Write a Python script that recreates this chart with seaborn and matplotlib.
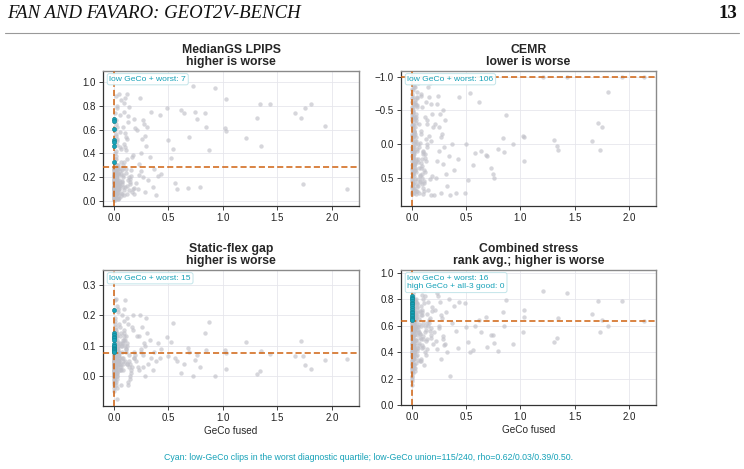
import matplotlib
matplotlib.use("Agg")
import matplotlib.pyplot as plt
from matplotlib.lines import Line2D
import numpy as np
import pandas as pd
import seaborn as sns

# ---------------- data ----------------
x_low = [0.0, 0.002, 0.004, 0.001, 0.003, 0.0, 0.005, 0.002, 0.001, 0.004,
         0.0, 0.003, 0.006, 0.001, 0.002, 0.0, 0.004, 0.005, 0.001, 0.003,
         0.0, 0.002, 0.006, 0.004, 0.001, 0.0, 0.003, 0.002, 0.005, 0.001,
         0.0, 0.004, 0.002, 0.003, 0.006, 0.001, 0.0, 0.005, 0.002, 0.004,
         0.001, 0.0, 0.003, 0.002, 0.006, 0.004, 0.0, 0.001, 0.005, 0.003]
x_b = [0.011, 0.014, 0.018, 0.012, 0.022, 0.016, 0.027, 0.013, 0.031, 0.019,
       0.024, 0.036, 0.015, 0.042, 0.021, 0.029, 0.048, 0.017, 0.033, 0.055,
       0.012, 0.026, 0.039, 0.061, 0.02, 0.045, 0.014, 0.034, 0.067, 0.023,
       0.052, 0.018, 0.071, 0.028, 0.038, 0.013, 0.058, 0.025, 0.044, 0.077,
       0.016, 0.031, 0.064, 0.021, 0.049, 0.035, 0.011, 0.074, 0.027, 0.041,
       0.057, 0.019, 0.069, 0.037, 0.024]
x_c = [0.082, 0.091, 0.085, 0.104, 0.097, 0.118, 0.088, 0.126, 0.109, 0.094,
       0.135, 0.113, 0.142, 0.099, 0.151, 0.121, 0.087, 0.163, 0.131, 0.107,
       0.172, 0.144, 0.093, 0.181, 0.116, 0.158, 0.128, 0.189, 0.102, 0.147,
       0.195, 0.124, 0.168, 0.084, 0.138, 0.177, 0.111, 0.155, 0.096, 0.185]
x_d = [0.205, 0.214, 0.228, 0.237, 0.246, 0.219, 0.258, 0.267, 0.274, 0.289,
       0.231, 0.296, 0.312, 0.253, 0.327, 0.341, 0.283, 0.356, 0.372, 0.305,
       0.389, 0.403, 0.268, 0.421, 0.437]
x_e = [0.49, 0.50, 0.52, 0.54, 0.56, 0.58, 0.62, 0.64, 0.68, 0.69, 0.73, 0.745,
       0.76, 0.79, 0.84, 0.85, 0.87, 0.93, 1.02, 1.03, 1.03, 1.21, 1.31, 1.34,
       1.35, 1.43, 1.66, 1.72, 1.735, 1.75, 1.81, 1.94, 2.14]
x_f = [0.007, 0.009, 0.012, 0.008, 0.015, 0.01, 0.02, 0.013, 0.025, 0.009,
       0.018, 0.03, 0.011, 0.035, 0.016, 0.023, 0.04, 0.008, 0.028, 0.047,
       0.012, 0.021, 0.033, 0.055, 0.014, 0.038, 0.01, 0.026, 0.062, 0.017,
       0.044, 0.013, 0.072, 0.022, 0.031, 0.009, 0.051, 0.019, 0.037, 0.085,
       0.011, 0.027, 0.059, 0.015, 0.043, 0.029, 0.008, 0.095, 0.024, 0.034,
       0.066, 0.012, 0.078, 0.032, 0.02, 0.105, 0.016, 0.048, 0.011, 0.118]
geco_fused = x_low + x_b + x_c + x_d + x_e + x_f

lpips = [0.04, 0.12, 0.21, 0.07, 0.16, 0.27, 0.09, 0.03, 0.18, 0.24,
         0.11, 0.06, 0.14, 0.22, 0.01, 0.19, 0.08, 0.26, 0.13, 0.05,
         0.17, 0.1, 0.23, 0.02, 0.15, 0.2, 0.07, 0.12, 0.28, 0.09,
         0.16, 0.04, 0.25, 0.11, 0.18, 0.06, 0.14, 0.21, 0.03, 0.1,
         0.19, 0.13, 0.08, 0.24, 0.17, 0.05, 0.22, 0.15, 0.11, 0.27,
         0.08, 0.15, 0.42, 0.05, 0.22, 0.88, 0.12, 0.31, 0.18, 0.65,
         0.03, 0.27, 0.55, 0.1, 0.2, 0.78, 0.14, 0.38, 0.07, 0.25,
         0.17, 0.47, 0.09, 0.85, 0.21, 0.13, 0.6, 0.04, 0.33, 0.19,
         0.72, 0.11, 0.16, 0.52, 0.24, 0.06, 0.45, 0.28, 0.9, 0.14,
         0.35, 0.1, 0.23, 0.68, 0.18, 0.02, 0.4, 0.26, 0.8, 0.12,
         0.58, 0.2, 0.07, 0.3, 0.15,
         0.12, 0.48, 0.22, 0.86, 0.05, 0.35, 0.62, 0.18, 0.27, 0.75,
         0.09, 0.43, 0.2, 0.57, 0.14, 0.9, 0.3, 0.08, 0.66, 0.24,
         0.39, 0.16, 0.82, 0.11, 0.52, 0.26, 0.71, 0.06, 0.45, 0.19,
         0.61, 0.13, 0.37, 0.28, 0.79, 0.1, 0.54, 0.21, 0.33, 0.69,
         0.15, 0.6, 0.22, 0.86, 0.4, 0.1, 0.52, 0.2, 0.65, 0.08,
         0.31, 0.46, 0.18, 0.25, 0.37, 0.75, 0.55, 0.12, 0.27, 0.62,
         0.05, 0.21, 0.68, 0.72, 0.23,
         0.777, 0.51, 0.36, 0.44, 0.156, 0.10, 0.765, 0.74, 0.11, 0.54, 0.967,
         0.745, 0.69, 0.115, 0.74, 0.625, 0.43, 0.945, 0.61, 0.59, 0.855, 0.53,
         0.70, 0.814, 0.46, 0.814, 0.735, 0.70, 0.145, 0.78, 0.814, 0.627, 0.105,
         0.06, 0.14, 0.22, 0.03, 0.18, 0.1, 0.26, 0.08, 0.16, 0.04,
         0.2, 0.12, 0.35, 0.07, 0.24, 0.15, 0.02, 0.19, 0.11, 0.28,
         0.05, 0.17, 0.5, 0.13, 0.09, 0.23, 0.01, 0.15, 0.44, 0.21,
         0.1, 0.27, 0.06, 0.18, 0.62, 0.12, 0.03, 0.25, 0.14, 0.2,
         0.08, 0.3, 0.16, 0.05, 0.22, 0.11, 0.74, 0.09, 0.19, 0.13,
         0.04, 0.24, 0.17, 0.07, 0.56, 0.12, 0.21, 0.1, 0.15, 0.06]

cemr = [-1.0, 0.35, -1.0, -0.62, 0.12, -1.0, 0.55, -0.28, -1.0, 0.71,
        -0.45, -1.0, 0.22, -0.08, -1.0, 0.43, -0.75, -1.0, 0.05, 0.62,
        -1.0, -0.35, 0.28, -1.0, -0.15, 0.49, -1.0, -0.55, 0.18, -1.0,
        0.38, -0.82, -1.0, 0.66, -0.22, -1.0, 0.09, -0.4, -1.0, 0.52,
        -0.05, -1.0, 0.31, -0.68, -1.0, 0.74, -0.12, -1.0, 0.25, -0.5,
        -0.3, 0.2, -1.0, 0.45, -0.6, 0.1, -0.15, 0.6, -0.85, 0.32,
        -0.42, -1.0, 0.05, 0.7, -0.2, 0.38, -0.7, 0.15, -0.05, 0.52,
        -0.92, 0.26, -0.35, 0.0, 0.66, -0.55, 0.42, -0.1, -1.0, 0.3,
        -0.78, 0.12, 0.57, -0.25, 0.74, -0.48, 0.22, -0.65, 0.08, 0.48,
        -0.18, -1.0, 0.35, -0.88, 0.62, -0.32, 0.18, -0.02, 0.55, -0.58,
        0.27, -0.12, 0.72, -0.4, 0.4,
        -0.2, 0.45, -0.72, 0.15, 0.6, -0.4, 0.28, -0.08, 0.7, -0.55,
        0.05, 0.38, -0.3, 0.65, -0.85, 0.2, -0.15, 0.52, -0.62, 0.1,
        0.75, -0.35, 0.32, -0.05, 0.58, -0.7, 0.25, -0.45, 0.12, 0.68,
        -0.25, 0.42, -0.9, 0.35, 0.0, -0.6, 0.55, -0.12, 0.22, 0.48,
        0.75, -0.3, 0.25, -0.72, 0.1, 0.5, -0.45, 0.72, -0.15, 0.3,
        -0.6, 0.05, 0.45, -0.25, 0.62, 0.18, -0.5, 0.75, 0.0, -0.35,
        0.38, 0.72, -0.1, 0.22, -0.7,
        0.73, 0.0, 0.535, -0.76, 0.31, 0.138, -0.63, 0.10, 0.163, 0.178, 0.357,
        0.45, 0.50, 0.08, -0.085, 0.123, -0.43, 0.0, -0.123, -0.104, 0.253, -1.0,
        -0.06, 0.03, 0.094, -1.0, -0.05, -0.31, 0.09, -0.25, -0.77, -1.0, -1.0,
        0.6, -0.4, 0.15, -0.7, 0.45, -0.1, 0.3, -0.55, 0.68, -0.25,
        0.05, 0.52, -0.8, 0.25, -0.35, 0.72, -0.05, 0.4, -0.62, 0.1,
        0.58, -0.2, 0.35, -0.9, 0.2, -0.45, 0.65, 0.0, -0.3, 0.48,
        -0.68, 0.12, 0.55, -0.15, 0.3, -0.5, 0.7, -0.02, 0.42, -0.75,
        0.18, -0.38, 0.62, 0.08, -0.58, 0.38, -0.12, 0.5, -0.85, 0.22,
        0.05, -0.28, 0.46, -0.6, 0.28, 0.74, -0.18, 0.6, -0.48, 0.15]

flex_gap = [0.02, 0.05, -0.01, 0.07, 0.03, 0.0, 0.06, 0.04, -0.03, 0.01,
            0.055, 0.025, 0.065, -0.02, 0.045, 0.015, 0.035, 0.075, 0.005, 0.05,
            -0.04, 0.03, 0.06, 0.01, 0.04, -0.015, 0.07, 0.02, 0.05, 0.0,
            0.035, 0.065, -0.005, 0.045, 0.025, 0.055, 0.01, -0.025, 0.06, 0.03,
            0.04, 0.07, 0.015, -0.05, 0.05, 0.02, 0.06, 0.035, 0.0, 0.045,
            0.04, 0.12, 0.02, 0.18, 0.07, -0.02, 0.09, 0.25, 0.05, 0.14,
            0.01, 0.1, 0.06, 0.21, 0.03, -0.078, 0.08, 0.16, 0.0, 0.11,
            0.05, 0.23, 0.07, -0.03, 0.13, 0.04, 0.19, 0.09, 0.02, 0.15,
            0.06, 0.255, 0.1, -0.01, 0.08, 0.17, 0.03, 0.12, 0.05, 0.2,
            0.07, 0.01, 0.14, 0.09, 0.04, 0.22, 0.06, 0.11, -0.04, 0.08,
            0.16, 0.03, 0.1, 0.05, 0.13,
            0.06, 0.15, 0.02, 0.1, 0.22, 0.04, 0.12, -0.02, 0.08, 0.18,
            0.03, 0.13, 0.07, 0.25, 0.0, 0.11, 0.05, 0.16, -0.03, 0.09,
            0.2, 0.04, 0.14, 0.06, 0.1, 0.01, 0.17, 0.08, 0.12, -0.01,
            0.07, 0.19, 0.03, 0.11, 0.05, 0.15, 0.09, 0.02, 0.13, 0.06,
            0.05, 0.13, 0.02, 0.2, 0.09, 0.03, 0.16, 0.07, 0.11, 0.0,
            0.13, 0.19, 0.04, 0.08, 0.12, 0.06, 0.1, 0.02, 0.08, 0.14,
            0.05, 0.11, 0.03, 0.06, 0.09,
            0.129, 0.065, 0.113, 0.173, 0.06, 0.05, 0.008, 0.04, 0.091, 0.08, 0.0,
            0.052, 0.07, 0.03, 0.14, 0.085, 0.179, -0.001, 0.085, 0.074, 0.023, 0.113,
            0.006, 0.016, 0.083, 0.071, 0.065, 0.114, 0.066, 0.035, 0.022, 0.053, 0.055,
            0.03, 0.07, 0.05, 0.1, 0.02, 0.08, 0.04, 0.12, 0.06, -0.01,
            0.09, 0.03, 0.15, 0.05, 0.07, 0.01, 0.11, 0.04, 0.08, 0.06,
            -0.02, 0.1, 0.05, 0.13, 0.03, 0.07, 0.0, 0.09, 0.04, 0.06,
            0.17, 0.02, 0.08, 0.05, 0.11, 0.03, 0.07, -0.03, 0.1, 0.04,
            0.06, 0.14, 0.02, 0.09, 0.05, 0.08, 0.01, 0.12, 0.04, 0.07,
            0.03, 0.1, 0.06, 0.0, 0.08, 0.05, 0.13, 0.02, 0.09, 0.04]

combined = [0.45, 0.32, 0.58, 0.22, 0.5, 0.38, 0.62, 0.28, 0.55, 0.41,
            0.18, 0.47, 0.35, 0.6, 0.25, 0.52, 0.43, 0.3, 0.57, 0.4,
            0.63, 0.2, 0.48, 0.36, 0.54, 0.27, 0.44, 0.59, 0.33, 0.51,
            0.15, 0.46, 0.39, 0.61, 0.24, 0.53, 0.42, 0.34, 0.56, 0.29,
            0.49, 0.37, 0.6, 0.21, 0.45, 0.31, 0.58, 0.4, 0.26, 0.52,
            0.55, 0.72, 0.4, 0.85, 0.62, 0.3, 0.68, 0.48, 0.78, 0.58,
            0.35, 0.66, 0.5, 0.88, 0.6, 0.42, 0.74, 0.53, 0.26, 0.7,
            0.64, 0.45, 0.8, 0.57, 0.38, 0.67, 0.52, 0.9, 0.61, 0.44,
            0.76, 0.56, 0.33, 0.69, 0.49, 0.82, 0.59, 0.41, 0.73, 0.54,
            0.28, 0.65, 0.47, 0.86, 0.6, 0.37, 0.71, 0.51, 0.79, 0.63,
            0.43, 0.75, 0.55, 0.32, 0.67,
            0.6, 0.45, 0.75, 0.52, 0.83, 0.4, 0.68, 0.57, 0.3, 0.72,
            0.5, 0.87, 0.62, 0.44, 0.78, 0.55, 0.35, 0.66, 0.48, 0.8,
            0.58, 0.42, 0.7, 0.53, 0.88, 0.64, 0.38, 0.74, 0.5, 0.6,
            0.46, 0.82, 0.56, 0.33, 0.69, 0.51, 0.77, 0.62, 0.43, 0.71,
            0.55, 0.72, 0.42, 0.82, 0.6, 0.48, 0.78, 0.35, 0.66, 0.52,
            0.85, 0.45, 0.7, 0.58, 0.4, 0.8, 0.5, 0.22, 0.62, 0.46,
            0.75, 0.56, 0.68, 0.43, 0.78,
            0.77, 0.59, 0.475, 0.40, 0.417, 0.60, 0.64, 0.55, 0.666, 0.442, 0.53,
            0.53, 0.468, 0.41, 0.70, 0.60, 0.79, 0.463, 0.553, 0.72, 0.664, 0.865,
            0.475, 0.508, 0.654, 0.845, 0.687, 0.787, 0.548, 0.644, 0.60, 0.787, 0.638,
            0.52, 0.66, 0.44, 0.73, 0.58, 0.36, 0.62, 0.48, 0.7, 0.55,
            0.4, 0.64, 0.5, 0.78, 0.57, 0.31, 0.68, 0.46, 0.6, 0.53,
            0.42, 0.72, 0.56, 0.34, 0.63, 0.49, 0.76, 0.59, 0.45, 0.67,
            0.38, 0.61, 0.54, 0.8, 0.47, 0.65, 0.41, 0.57, 0.7, 0.5,
            0.62, 0.28, 0.55, 0.74, 0.43, 0.6, 0.52, 0.68, 0.39, 0.58,
            0.65, 0.47, 0.71, 0.54, 0.35, 0.62, 0.49, 0.77, 0.44, 0.6]

# highlighted low-GeCo clips in the worst quartile
cyan_x_lpips = [0.0, 0.0, 0.002, 0.0, 0.002, 0.0, 0.0]
cyan_y_lpips = [0.686, 0.671, 0.604, 0.513, 0.499, 0.462, 0.331]
cyan_x_cemr = [0.0, 0.002, 0.004]
cyan_y_cemr = [-1.0, -1.0, -1.0]
cyan_x_gap = [0.0, 0.002, 0.0, 0.003, 0.001, 0.0, 0.002, 0.0, 0.003, 0.001,
              0.0, 0.002, 0.001, 0.0, 0.003]
cyan_y_gap = [0.217, 0.14, 0.135, 0.129, 0.125, 0.118, 0.105, 0.1, 0.097, 0.093,
              0.09, 0.087, 0.084, 0.081, 0.079]
cyan_x_comb = [0.0, 0.003, 0.001, 0.004, 0.0, 0.002, 0.004, 0.001, 0.003, 0.0,
               0.002, 0.004, 0.001, 0.003, 0.0, 0.002]
cyan_y_comb = [0.82, 0.81, 0.8, 0.785, 0.77, 0.76, 0.745, 0.73, 0.72, 0.705,
               0.695, 0.68, 0.67, 0.66, 0.65, 0.645]

titles = ["MedianGS LPIPS\nhigher is worse", "CEMR\nlower is worse",
          "Static-flex gap\nhigher is worse", "Combined stress\nrank avg.; higher is worse"]
worst_thresholds = [0.289, -1.0, 0.077, 0.638]
low_geco_threshold = 0.005
worst_counts = [7, 106, 15, 16]
high_good_count = 0
caption = ("Cyan: low-GeCo clips in the worst diagnostic quartile; "
           "low-GeCo union=115/240, rho=0.62/0.03/0.39/0.50.")

# ---------------- style ----------------
sns.set_theme(style="whitegrid")
plt.rcParams["font.family"] = ["Liberation Sans", "DejaVu Sans"]

GRAY = "#c0c0c8"
CYAN = "#17a2b8"
ORANGE = "#d0620f"

fig = plt.figure(figsize=(7.44, 4.69), dpi=100)

panels = [
    (lpips, cyan_x_lpips, cyan_y_lpips, [103, 71, 359, 206], (-0.04, 1.09), [0.0, 0.2, 0.4, 0.6, 0.8, 1.0], False),
    (cemr, cyan_x_cemr, cyan_y_cemr, [401, 71, 656, 206], (-1.085, 0.92), [-1.0, -0.5, 0.0, 0.5], True),
    (flex_gap, cyan_x_gap, cyan_y_gap, [103, 270, 359, 406], (-0.10, 0.35), [0.0, 0.1, 0.2, 0.3], False),
    (combined, cyan_x_comb, cyan_y_comb, [401, 270, 656, 405], (0.0, 1.02), [0.0, 0.2, 0.4, 0.6, 0.8, 1.0], False),
]
W, H = 744, 469
for i, (yv, cx, cy, box, ylim, yticks, invert) in enumerate(panels):
    l, t, r, b = box
    ax = fig.add_axes([l / W, 1 - b / H, (r - l) / W, (b - t) / H])
    df = pd.DataFrame({"GeCo fused": geco_fused, "value": yv})
    sns.scatterplot(data=df, x="GeCo fused", y="value", ax=ax, color=GRAY,
                    s=10, linewidth=0, alpha=0.65, zorder=2, legend=False)
    dfc = pd.DataFrame({"GeCo fused": cx, "value": cy})
    sns.scatterplot(data=dfc, x="GeCo fused", y="value", ax=ax, color=CYAN,
                    s=9, edgecolor="#0f8391", linewidth=0.4, zorder=4, legend=False)
    ax.axhline(worst_thresholds[i], color=ORANGE, lw=1.1, ls=(0, (4, 2)), zorder=3)
    ax.axvline(low_geco_threshold, color=ORANGE, lw=1.1, ls=(0, (4, 2)), zorder=3)
    ax.set_xlim(-0.10, 2.25)
    ax.set_xticks([0.0, 0.5, 1.0, 1.5, 2.0])
    ax.set_ylim(*ylim)
    ax.set_yticks(yticks)
    if invert:
        ax.invert_yaxis()
    ax.set_title(titles[i], fontsize=8.8, fontweight="bold", pad=4, linespacing=1.05)
    ax.set_xlabel("GeCo fused" if i >= 2 else "", fontsize=7.2, labelpad=2)
    ax.set_ylabel("")
    ax.tick_params(labelsize=7, length=3, width=0.6, pad=2, colors="#222222",
                   left=True, bottom=True, direction="out")
    ax.grid(True, color="#e6e6ec", lw=0.6)
    for side in ["left", "bottom"]:
        ax.spines[side].set_color("#333333")
        ax.spines[side].set_linewidth(0.9)
    for side in ["top", "right"]:
        ax.spines[side].set_color("#8a8a8a")
        ax.spines[side].set_linewidth(1.0)
    txt = f"low GeCo + worst: {worst_counts[i]}"
    if i == 3:
        txt += f"\nhigh GeCo + all-3 good: {high_good_count}"
    ax.text(0.025, 0.965, txt, transform=ax.transAxes, ha="left", va="top",
            fontsize=6.1, color=CYAN, zorder=6, linespacing=1.35,
            bbox=dict(boxstyle="round,pad=0.25", fc="white", ec="#bfe3e8", lw=0.7, alpha=0.95))

fig.text(7 / W, 1 - 13 / H, "FAN AND FAVARO: GEOT2V-BENCH", fontsize=13.5,
         family="Liberation Serif", style="italic", ha="left", va="center", color="#111111")
fig.text(737 / W, 1 - 13 / H, "13", fontsize=13.5, family="Liberation Serif",
         fontweight="bold", ha="right", va="center", color="#111111")
fig.add_artist(Line2D([5 / W, 739 / W], [1 - 33 / H, 1 - 33 / H], color="#999999", lw=0.8))
fig.text(369 / W, 1 - 457 / H, caption, fontsize=6.3, color=CYAN, ha="center", va="center")

fig.savefig("out.png", dpi=100)
